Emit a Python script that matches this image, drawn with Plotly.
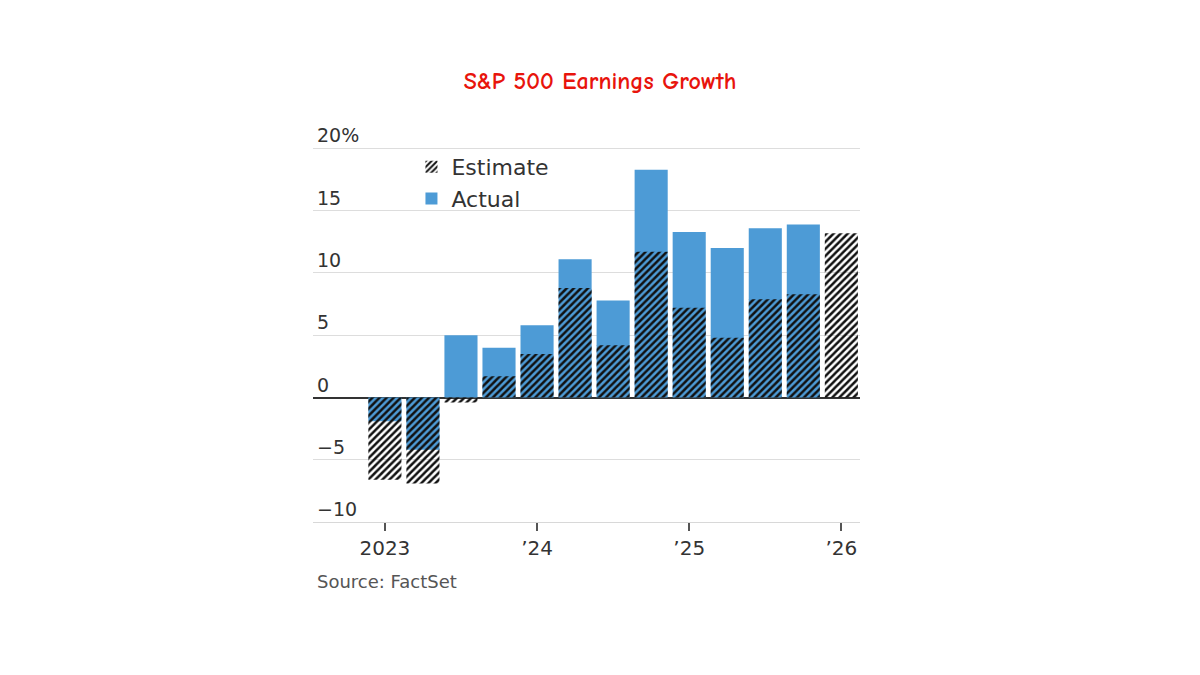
import plotly.graph_objects as go

quarters = ["2023 Q1", "2023 Q2", "2023 Q3", "2023 Q4",
            "2024 Q1", "2024 Q2", "2024 Q3", "2024 Q4",
            "2025 Q1", "2025 Q2", "2025 Q3", "2025 Q4",
            "2026 Q1"]
actual = [-1.9, -4.2, 5.0, 4.0, 5.8, 11.1, 7.8, 18.3, 13.3, 12.0, 13.6, 13.9, None]
estimate = [-6.6, -6.9, -0.4, 1.7, 3.5, 8.8, 4.2, 11.7, 7.2, 4.8, 7.9, 8.3, 13.2]

x_tickvals = ["2023 Q1", "2024 Q1", "2025 Q1", "2026 Q1"]
x_ticktext = ["2023", "’24", "’25", "’26"]
y_tickvals = [20, 15, 10, 5, 0, -5, -10]
y_ticktext = ["20%", "15", "10", "5", "0", "−5", "−10"]

FONT = "DejaVu Sans, Noto Sans, sans-serif"
TXT = "#333333"

fig = go.Figure()
fig.add_trace(go.Bar(
    x=quarters, y=actual, name="Actual",
    marker=dict(color="#4d9bd6", line=dict(width=0)),
))
fig.add_trace(go.Bar(
    x=quarters, y=estimate, name="Estimate",
    marker=dict(color="#111111", line=dict(width=0),
                pattern=dict(shape="/", fillmode="replace", fgcolor="#111111",
                             bgcolor="rgba(0,0,0,0)", size=5, solidity=0.5)),
))

for v, t in zip(y_tickvals, y_ticktext):
    fig.add_annotation(x=0.004, xref="paper", y=v, yref="y", text=t,
                       showarrow=False, xanchor="left", yanchor="middle",
                       yshift=13, font=dict(family=FONT, size=19, color=TXT))

fig.add_annotation(x=0.004, xref="paper", y=-0.157, yref="paper",
                   text="Source: FactSet", showarrow=False, xanchor="left",
                   yanchor="middle", font=dict(family=FONT, size=18, color="#555555"))

fig.update_layout(
    width=1200, height=675,
    paper_bgcolor="white", plot_bgcolor="white",
    margin=dict(l=313, r=340, t=146, b=153),
    barmode="overlay", bargap=0.13,
    title=dict(text="<b>S&P 500 Earnings Growth</b>", x=0.5, xanchor="center",
               y=1 - 81 / 675, yref="container", yanchor="middle",
               font=dict(family="Comic Sans MS, Comic Neue, cursive", size=24,
                         color="#e8140c", weight="bold")),
    showlegend=True,
    legend=dict(x=0.18, y=1.0, xanchor="left", yanchor="top", traceorder="reversed",
                bgcolor="rgba(0,0,0,0)", font=dict(family=FONT, size=22, color=TXT),
                itemsizing="constant", tracegroupgap=0),
    xaxis=dict(type="category", range=[-1.89, 12.49], tickvals=x_tickvals, ticktext=x_ticktext,
               ticks="outside", ticklen=8, tickcolor="#555555", tickwidth=1.5,
               showline=True, linecolor="#d8d8d8", linewidth=1, showgrid=False,
               tickfont=dict(family=FONT, size=20, color=TXT), fixedrange=True),
    yaxis=dict(range=[-10, 20.2], tickvals=y_tickvals, showticklabels=False,
               showgrid=True, gridcolor="#dddddd", gridwidth=1,
               zeroline=True, zerolinecolor="#333333", zerolinewidth=1.5, fixedrange=True),
)

fig.write_html("out.html")
